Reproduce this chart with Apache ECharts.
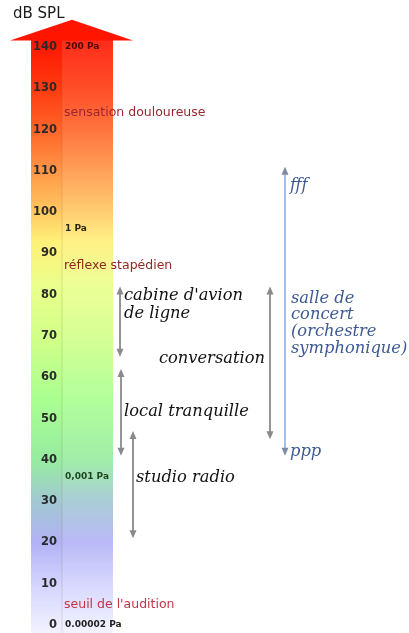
<!DOCTYPE html>
<html>
<head>
<meta charset="utf-8">
<script src="https://cdn.jsdelivr.net/npm/echarts@6/dist/echarts.min.js"></script>
<style>
  html, body { margin: 0; padding: 0; background: #fff; }
  #chart { width: 409px; height: 633px; }
</style>
</head>
<body>
<div id="chart"></div>
<script>
// pressure equivalents (dB SPL)
const paLabels = ['200 Pa', '1 Pa', '0,001 Pa', '0.00002 Pa']
const paLevels = [140, 96, 36, 0]

// physiological thresholds
const thresholdLabels = ['sensation douloureuse', 'réflexe stapédien', "seuil de l'audition"]
const thresholdLevels = [124, 87, 5]

// typical sources: low / high of the range, level of the label
const sourceNames = ["cabine d'avion\nde ligne", 'local tranquille', 'studio radio', 'conversation']
const sourceLow = [65, 41, 21, 45]
const sourceHigh = [82, 62, 47, 82]
const sourceLabelLevel = [77.5, 51.6, 35.6, 64.6]

// concert hall dynamics
const concertName = 'salle de\nconcert\n(orchestre\nsymphonique)'
const concertLow = 41
const concertHigh = 111
const concertLabelLevel = 73
const dynamicMarks = ['fff', 'ppp']
const dynamicLevels = [106.5, 42]

// layout (pixels on the hidden x axis)
const BAR_LEFT = 31, BAR_SPLIT = 62, BAR_RIGHT = 113
const BAR_TOP = 141.8, BAR_BOTTOM = -2.5
const HEAD_LEFT = 10, HEAD_RIGHT = 133, HEAD_TIP = 146.6
const PA_X = 65
const sourceArrowX = [120, 121, 133, 270]
const sourceTextX = [124, 124, 136, 265]
const CONCERT_X = 285
const CONCERT_TEXT_X = 291

const SERIF = '"DejaVu Serif", serif'
const SANS = '"DejaVu Sans", sans-serif'

const chart = echarts.init(document.getElementById('chart'))

// gradient colours by dB level
const gradStops = [
  [142, '#ff1400'], [130, '#ff3a10'], [120, '#ff6428'], [110, '#ff9646'],
  [100, '#ffc862'], [93, '#fff078'], [82, '#eaff8c'], [70, '#d2ff88'],
  [55, '#aaff90'], [40, '#96eca0'], [30, '#a2c8d2'], [20, '#b2b2f6'],
  [9, '#d6d6ff'], [-3, '#f4f4ff']
]

const arrowShape = (api, x, low, high, color, lineColor) => {
  const top = api.coord([x, high])
  const bot = api.coord([x, low])
  const h = 8, w = 3.5
  return [
    { type: 'line', shape: { x1: top[0], y1: top[1] + 4, x2: bot[0], y2: bot[1] - 4 },
      style: { stroke: lineColor || color, lineWidth: 1.8 } },
    { type: 'polygon', shape: { points: [[top[0], top[1]], [top[0] - w, top[1] + h], [top[0] + w, top[1] + h]] },
      style: { fill: color } },
    { type: 'polygon', shape: { points: [[bot[0], bot[1]], [bot[0] - w, bot[1] - h], [bot[0] + w, bot[1] - h]] },
      style: { fill: color } }
  ]
}

const textEl = (api, x, level, text, font) => {
  const p = api.coord([x, level])
  return {
    type: 'text', x: p[0], y: p[1],
    style: Object.assign({ text: text, verticalAlign: 'middle', align: 'left' }, font)
  }
}

const option = {
  animation: false,
  title: {
    text: 'dB SPL', left: 13, top: 7, padding: 0,
    textStyle: { fontSize: 15, fontWeight: 'normal', color: '#1a1a1a', fontFamily: SANS }
  },
  grid: { left: 0, right: 0, top: 47, bottom: 8 },
  xAxis: { type: 'value', min: 0, max: 409, show: false },
  yAxis: {
    type: 'value', min: 0, max: 140, interval: 10, offset: -60, z: 10,
    axisLine: { show: false }, axisTick: { show: false }, splitLine: { show: false },
    axisLabel: { color: '#2a2a2a', fontWeight: 'bold', fontSize: 11.5, fontFamily: SANS, margin: 3 }
  },
  series: [
    {
      type: 'custom', z: 1, silent: true,
      data: [[0, 0]],
      renderItem: (params, api) => {
        const tl = api.coord([BAR_LEFT, BAR_TOP])
        const br = api.coord([BAR_RIGHT, BAR_BOTTOM])
        const split = api.coord([BAR_SPLIT, 0])[0]
        const span = BAR_TOP - BAR_BOTTOM
        const grad = new echarts.graphic.LinearGradient(0, 0, 0, 1,
          gradStops.map(s => ({ offset: Math.min(1, Math.max(0, (BAR_TOP - s[0]) / span)), color: s[1] })))
        const hl = api.coord([HEAD_LEFT, BAR_TOP])
        const hr = api.coord([HEAD_RIGHT, BAR_TOP])
        const tip = api.coord([(HEAD_LEFT + HEAD_RIGHT) / 2 + 0.5, HEAD_TIP])
        return {
          type: 'group',
          children: [
            { type: 'rect', shape: { x: tl[0], y: tl[1], width: br[0] - tl[0], height: br[1] - tl[1] },
              style: { fill: grad } },
            { type: 'rect', shape: { x: split, y: tl[1], width: br[0] - split, height: br[1] - tl[1] },
              style: { fill: 'rgba(255,255,255,0.1)' } },
            { type: 'line', shape: { x1: split, y1: tl[1], x2: split, y2: br[1] },
              style: { stroke: 'rgba(120,90,60,0.18)', lineWidth: 1 } },
            { type: 'polygon', shape: { points: [[hl[0], hl[1] + 1], [tip[0], tip[1]], [hr[0], hr[1] + 1]] },
              style: { fill: '#ff1500' } }
          ]
        }
      }
    },
    {
      // pressure labels
      type: 'custom', z: 11, silent: true,
      data: paLabels.map((t, i) => [paLevels[i], i]),
      renderItem: (params, api) => {
        const i = params.dataIndex
        const colors = ['#4a0a00', '#2a2a10', '#1d4a1d', '#222']
        return textEl(api, PA_X, api.value(0), paLabels[i],
          { fontSize: 9, fontWeight: 'bold', fontFamily: SANS, fill: colors[i] })
      }
    },
    {
      // thresholds
      type: 'custom', z: 11, silent: true,
      data: thresholdLabels.map((t, i) => [thresholdLevels[i], i]),
      renderItem: (params, api) => {
        const i = params.dataIndex
        const colors = ['#9a2630', '#8e2a22', '#c23446']
        return textEl(api, PA_X - 1, api.value(0), thresholdLabels[i],
          { fontSize: 12.5, fontFamily: SANS, fill: colors[i] })
      }
    },
    {
      // source ranges
      type: 'custom', z: 5, silent: true,
      data: sourceNames.map((n, i) => [sourceLow[i], sourceHigh[i], sourceLabelLevel[i]]),
      renderItem: (params, api) => {
        const i = params.dataIndex
        const label = textEl(api, sourceTextX[i], api.value(2), sourceNames[i],
          { fontSize: 16.3, fontStyle: 'italic', fontFamily: SERIF, fill: '#111', lineHeight: 18,
            align: i === 3 ? 'right' : 'left' })
        return {
          type: 'group',
          children: arrowShape(api, sourceArrowX[i], api.value(0), api.value(1), '#8a8a8a').concat([label])
        }
      }
    },
    {
      // concert hall
      type: 'custom', z: 5, silent: true,
      data: [[concertLow, concertHigh, concertLabelLevel]],
      renderItem: (params, api) => {
        const font = { fontSize: 16.3, fontStyle: 'italic', fontFamily: SERIF, fill: '#3d5a94' }
        const children = arrowShape(api, CONCERT_X, api.value(0), api.value(1), '#7d8ca4', '#9ab8ea')
        children.push(textEl(api, CONCERT_TEXT_X, api.value(2), concertName,
          Object.assign({ lineHeight: 16.7 }, font)))
        dynamicMarks.forEach((m, k) => {
          children.push(textEl(api, CONCERT_TEXT_X - 1, dynamicLevels[k], m, font))
        })
        return { type: 'group', children: children }
      }
    }
  ]
}

chart.setOption(option)
window.addEventListener('resize', () => chart.resize())
</script>
</body>
</html>
